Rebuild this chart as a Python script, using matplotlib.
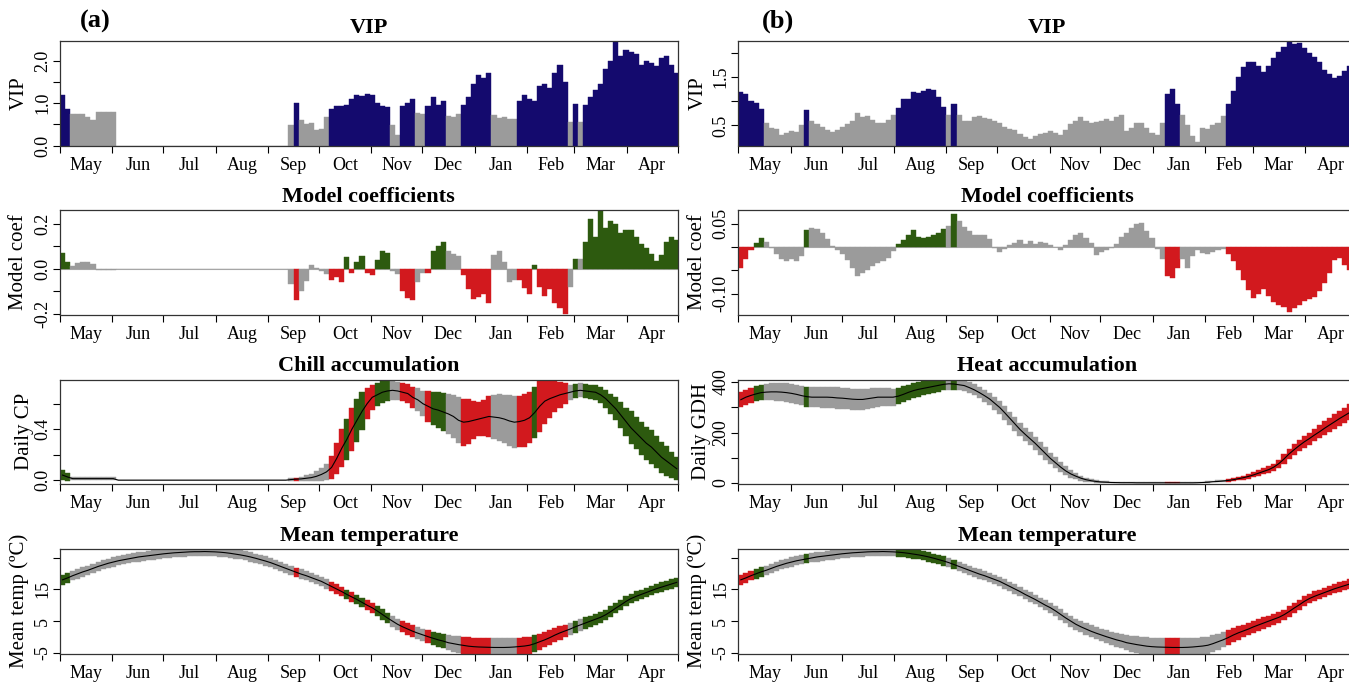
import numpy as np
import matplotlib
matplotlib.use("Agg")
import matplotlib.pyplot as plt

# one bar = 3 days, starting 1 May
STEP = 3
MONTHS = ["May", "Jun", "Jul", "Aug", "Sep", "Oct", "Nov", "Dec", "Jan", "Feb", "Mar", "Apr"]
MONTH_STARTS = [0, 31, 61, 92, 123, 153, 184, 214, 245, 276, 304, 335, 365]

# ---------- panel (a): chill ----------
vip_a = [1.2, 0.85, 0.74, 0.74, 0.73, 0.66, 0.59, 0.79, 0.79, 0.79, 0.79,
         0, 0, 0, 0, 0, 0, 0, 0, 0, 0, 0, 0, 0, 0, 0, 0, 0,
         0, 0, 0, 0, 0, 0, 0, 0, 0, 0, 0, 0, 0, 0, 0, 0, 0,
         0.49, 1.0, 0.6, 0.51, 0.52, 0.37, 0.39, 0.68, 0.87, 0.92, 0.94, 0.96, 1.1, 1.18, 1.17, 1.22,
         1.2, 1.0, 0.94, 0.9,
         0.49, 0.25, 0.94, 1.0, 1.1, 0.76, 0.75, 0.94, 1.15, 0.95, 1.05, 0.7, 0.66, 0.75, 0.95,
         1.15, 1.45, 1.65, 1.6, 1.7, 0.72, 0.65, 0.68, 0.62, 0.63,
         1.05, 1.2, 1.1, 1.05, 1.4, 1.45, 1.35, 1.7, 1.9, 1.5,
         0.55, 0.98, 0.55, 0.95, 1.15, 1.3, 1.45,
         1.8, 2.0, 2.44, 2.1, 2.25, 2.2, 2.15, 1.9, 1.98, 1.95, 1.88, 2.05, 2.1, 1.9, 1.7]

coef_a = [0.07, 0.03, 0.01, 0.025, 0.028, 0.028, 0.02, -0.005, -0.005, -0.005, -0.005,
          0, 0, 0, 0, 0, 0, 0, 0, 0, 0, 0, 0, 0, 0, 0, 0, 0,
          0, 0, 0, 0, 0, 0, 0, 0, 0, 0, 0, 0, 0, 0, 0, 0, 0,
          -0.07, -0.14, -0.1, -0.055, 0.015, 0.005, -0.01, -0.025, -0.05, -0.035, -0.06, 0.05,
          -0.02, 0.03, 0.055, -0.02,
          -0.03, 0.04, 0.08, 0.07,
          -0.012, -0.025, -0.1, -0.13, -0.14, -0.06, -0.02, -0.02, 0.08, 0.1, 0.12, 0.08, 0.065,
          0.055, -0.03, -0.09, -0.135, -0.125, -0.11, -0.15, 0.06, 0.08, 0.03, -0.06, -0.05,
          -0.05, -0.085, -0.11, 0.015, -0.08, -0.12, -0.09, -0.15, -0.175, -0.2,
          -0.08, 0.045, 0.045, 0.12, 0.22, 0.14, 0.26,
          0.18, 0.21, 0.2, 0.16, 0.17, 0.17, 0.14, 0.11, 0.09, 0.065, 0.035, 0.06, 0.12, 0.14, 0.125]

chill_mean = [0.04, 0.025, 0.012, 0.012, 0.012, 0.012, 0.012, 0.012, 0.012, 0.012, 0.012,
              0, 0, 0, 0, 0, 0, 0, 0, 0, 0, 0, 0, 0, 0, 0, 0, 0,
              0, 0, 0, 0, 0, 0, 0, 0, 0, 0, 0, 0, 0, 0, 0, 0, 0,
              0.005, 0.008, 0.01, 0.015, 0.02, 0.03, 0.045, 0.065,
              0.10, 0.17, 0.25, 0.32, 0.40, 0.47, 0.54, 0.60, 0.65,
              0.67, 0.69, 0.70, 0.705, 0.70, 0.69, 0.68, 0.65, 0.63, 0.60, 0.58, 0.56, 0.55,
              0.535, 0.52, 0.50, 0.47, 0.455, 0.46, 0.47, 0.48, 0.49, 0.50, 0.495, 0.49, 0.48,
              0.465, 0.455, 0.46, 0.47, 0.49, 0.53, 0.58, 0.62, 0.64, 0.655, 0.67, 0.68, 0.69,
              0.70, 0.705, 0.70, 0.695, 0.69, 0.67, 0.64, 0.60, 0.56, 0.51, 0.46, 0.41, 0.37,
              0.33, 0.29, 0.26, 0.22, 0.18, 0.15, 0.12, 0.09]

chill_sd = [0.04, 0.03, 0.012, 0.012, 0.012, 0.012, 0.012, 0.012, 0.012, 0.012, 0.012,
            0, 0, 0, 0, 0, 0, 0, 0, 0, 0, 0, 0, 0, 0, 0, 0, 0,
            0, 0, 0, 0, 0, 0, 0, 0, 0, 0, 0, 0, 0, 0, 0, 0, 0,
            0.01, 0.012, 0.015, 0.022, 0.03, 0.04, 0.05, 0.06,
            0.09, 0.12, 0.15, 0.16, 0.17, 0.17, 0.15, 0.12, 0.10,
            0.09, 0.085, 0.08, 0.075, 0.07, 0.07, 0.075, 0.08, 0.09, 0.10, 0.12, 0.13, 0.14,
            0.15, 0.16, 0.17, 0.18, 0.185, 0.18, 0.15, 0.13, 0.14, 0.16, 0.17, 0.185, 0.19,
            0.20, 0.205, 0.20, 0.21, 0.20, 0.20, 0.20, 0.18, 0.15, 0.12, 0.10, 0.08, 0.06,
            0.055, 0.055, 0.055, 0.055, 0.06, 0.065, 0.07, 0.08, 0.09, 0.10, 0.11, 0.13, 0.125,
            0.13, 0.13, 0.13, 0.125, 0.12, 0.115, 0.105, 0.09]

# ---------- panel (b): heat ----------
vip_b = [1.18, 1.15, 1.0, 0.97, 0.83, 0.55, 0.45, 0.42, 0.3, 0.35, 0.39, 0.37, 0.5, 0.82,
         0.6, 0.52, 0.47, 0.4, 0.37, 0.41, 0.47, 0.52, 0.6, 0.75, 0.68, 0.7, 0.62, 0.56,
         0.55, 0.62, 0.72, 0.85, 1.05, 1.05, 1.19, 1.16, 1.21, 1.25, 1.24, 1.08, 0.88, 0.72,
         0.95, 0.72, 0.6, 0.6, 0.67, 0.69, 0.66, 0.63, 0.59, 0.55, 0.47, 0.42, 0.4, 0.32,
         0.27, 0.23, 0.28, 0.33, 0.35, 0.39, 0.34, 0.31, 0.4, 0.52, 0.6, 0.67, 0.6, 0.54,
         0.58, 0.6, 0.63, 0.6, 0.68, 0.72, 0.38, 0.45, 0.55, 0.56, 0.45, 0.34, 0.3, 0.55,
         1.15, 1.25, 0.95, 0.72, 0.5, 0.28, 0.15, 0.45, 0.42, 0.5, 0.56, 0.7,
         0.95, 1.2, 1.5, 1.7, 1.81, 1.81, 1.73, 1.6, 1.72, 1.88, 2.02, 2.12, 2.24, 2.18,
         2.2, 2.1, 2.0, 1.9, 1.8, 1.65, 1.56, 1.48, 1.52, 1.62, 1.72, 1.78]

coef_b = [-0.045, -0.025, -0.006, 0.008, 0.02, 0.01, -0.003, -0.015, -0.025, -0.03,
          -0.026, -0.03, -0.02, 0.037, 0.041, 0.038, 0.03, 0.016, 0.002, -0.007,
          -0.016, -0.028, -0.045, -0.062, -0.056, -0.05, -0.042, -0.035, -0.031, -0.024,
          -0.008, 0.006, 0.014, 0.025, 0.037, 0.022, 0.019, 0.021, 0.026, 0.03,
          0.039, 0.044, 0.07, 0.055, 0.042, 0.035, 0.025, 0.025, 0.025, 0.016,
          -0.003, -0.01, -0.004, 0.004, 0.008, 0.015, 0.007, 0.013, 0.007, 0.011,
          0.008, 0.004, 0.0, -0.006, 0.004, 0.014, 0.026, 0.03, 0.02, 0.008,
          -0.017, -0.01, -0.006, -0.003, 0.006, 0.022, 0.03, 0.04, 0.048, 0.052,
          0.033, 0.018, -0.005, -0.025, -0.062, -0.066, -0.045, -0.025, -0.045, -0.02,
          -0.006, -0.014, -0.016, -0.01, -0.006, -0.004, -0.015, -0.03, -0.05, -0.072,
          -0.092, -0.11, -0.102, -0.09, -0.106, -0.118, -0.124, -0.128, -0.14, -0.13,
          -0.125, -0.117, -0.111, -0.108, -0.094, -0.078, -0.055, -0.028, -0.024, -0.038,
          -0.05, -0.06]

heat_mean = [330, 340, 347, 353, 358, 360, 361, 361, 360, 358, 355, 351, 346, 342,
             340, 340, 340, 340, 339, 337, 336, 334, 332, 331, 331, 334, 337, 340,
             340, 340, 340, 344, 351, 359, 366, 371, 375, 379, 383, 387, 391, 393,
             392, 389, 386, 378, 369, 358, 346, 333, 316, 299, 278, 256, 234, 212,
             193, 175, 157, 137, 117, 97, 80, 63, 48, 36, 27, 19, 13, 9,
             6, 4, 3, 2, 1.5, 1, 1, 1, 0.5, 0.5, 0.5, 0.5, 0.5, 0.5,
             0.5, 0.5, 0.5, 0.5, 0.5, 0.5, 1, 2, 3, 5, 6, 8,
             10, 13, 17, 21, 26, 32, 39, 46, 53, 63, 77, 95, 115, 132,
             148, 163, 176, 190, 203, 217, 230, 243, 256, 268, 280, 292]

heat_sd = [30, 30, 30, 30, 30, 32, 34, 35, 36, 37, 38, 38, 38, 39, 40, 40, 41, 41, 42, 42,
           42, 42, 42, 41, 40, 39, 38, 37, 36, 35, 34, 33, 32, 31, 30, 29, 28, 27, 26, 25,
           24, 23, 22, 22, 22, 22, 22, 23, 24, 25, 26, 27, 27, 27, 27, 27, 26, 26, 25, 25,
           24, 23, 22, 20, 18, 15, 12, 10, 8, 6, 5, 4, 3, 3, 2, 2, 2, 2, 2, 2,
           2, 2, 2, 2, 2, 2, 2, 2, 2, 2, 2, 2, 3, 3, 4, 4, 5, 6, 7, 8,
           9, 10, 11, 12, 13, 14, 16, 18, 20, 21, 22, 23, 24, 25, 26, 27, 28, 29, 30, 31,
           32, 32]

# ---------- daily mean temperature (same record for both panels) ----------
temp_mean = [18.0, 18.6, 19.3, 19.9, 20.5, 21.0, 21.6, 22.2, 22.7, 23.2, 23.6, 24.0, 24.3,
             24.6, 24.9, 25.2, 25.4, 25.6, 25.8, 26.0, 26.2, 26.35, 26.5, 26.6, 26.7, 26.8,
             26.85, 26.85, 26.9, 26.85, 26.8, 26.7, 26.55, 26.35, 26.1, 25.85, 25.55, 25.2,
             24.8, 24.35, 23.9, 23.4, 22.8, 22.2, 21.6, 21.0, 20.4, 19.8, 19.3, 18.7, 18.1,
             17.5, 16.7, 15.9, 15.1, 14.3, 13.4, 12.6, 11.8, 10.9, 10.0, 9.2, 8.2, 7.1, 6.0,
             5.0, 4.0, 3.2, 2.5, 1.8, 1.2, 0.65, 0.1, -0.4, -0.9, -1.3, -1.8, -2.1, -2.4,
             -2.65, -2.9, -3.05, -3.15, -3.2, -3.25, -3.3, -3.3, -3.3, -3.25, -3.15, -3.0,
             -2.85, -2.6, -2.1, -1.5, -0.9, -0.2, 0.6, 1.3, 1.9, 2.5, 3.2, 3.8, 4.4, 5.0,
             5.6, 6.2, 7.0, 8.0, 9.1, 10.1, 11.2, 12.1, 12.8, 13.4, 14.0, 14.6, 15.2, 15.7,
             16.2, 16.7, 17.2]

temp_sd = [1.6, 1.55, 1.5, 1.5, 1.5, 1.45, 1.45, 1.45, 1.45, 1.45, 1.45, 1.45, 1.45, 1.45,
           1.45, 1.45, 1.45, 1.45, 1.45, 1.45, 1.45, 1.45, 1.45, 1.45, 1.45, 1.45, 1.45, 1.45,
           1.45, 1.45, 1.45, 1.45, 1.45, 1.45, 1.45, 1.45, 1.45, 1.45, 1.45, 1.45, 1.45, 1.45,
           1.45, 1.45, 1.45, 1.45, 1.45, 1.45, 1.45, 1.45, 1.45, 1.45, 1.45, 1.45, 1.45, 1.5,
           1.5, 1.5, 1.5, 1.5, 1.55, 1.55, 1.6, 1.6, 1.65, 1.7, 1.7, 1.75, 1.8, 1.85,
           1.85, 1.9, 2.0, 2.1, 2.2, 2.3, 2.4, 2.5, 2.6, 2.7, 2.75, 2.8, 2.85, 2.9, 2.9,
           2.9, 2.9, 2.9, 2.9, 2.85, 2.8, 2.75, 2.7, 2.6, 2.5, 2.4, 2.3, 2.2, 2.1, 2.0,
           1.9, 1.85, 1.8, 1.75, 1.7, 1.7, 1.65, 1.65, 1.6, 1.6, 1.6, 1.55, 1.55, 1.55,
           1.5, 1.5, 1.5, 1.5, 1.5, 1.5, 1.5, 1.5]

BLUE = "#140A6E"
GREEN = "#2D5A0F"
RED = "#D2191E"
GREY = "#9B9B9B"
VIP_CUT = 0.8

W, H = 1349, 682
COL_X = [60, 738.3]
AX_W = 617.6
ROW_TOP = [41, 210, 379.5, 549]
AX_H = 104.5

plt.rcParams["font.family"] = ["Liberation Serif", "DejaVu Serif"]


def vip_colors(vip):
    return [BLUE if v >= VIP_CUT else GREY for v in vip]


def coef_colors(vip, coef):
    cols = []
    for v, c in zip(vip, coef):
        if v < VIP_CUT:
            cols.append(GREY)
        else:
            cols.append(GREEN if c > 0 else RED)
    return cols


def make_axes(fig, col, row):
    left = COL_X[col] / W
    bottom = 1 - (ROW_TOP[row] + AX_H) / H
    return fig.add_axes([left, bottom, AX_W / W, AX_H / H])


def style_axes(ax, title, ylabel, ylim, yticks, ylabels, label_x):
    ax.set_xlim(0, 365)
    ax.set_ylim(*ylim)
    ax.set_title(title, fontsize=16, fontweight="bold", pad=6)
    ax.set_xticks(MONTH_STARTS)
    ax.set_xticklabels([])
    mids = [(a + b) / 2 for a, b in zip(MONTH_STARTS[:-1], MONTH_STARTS[1:])]
    ax.set_xticks(mids, minor=True)
    ax.set_xticklabels(MONTHS, minor=True, fontsize=13)
    ax.tick_params(axis="x", which="minor", length=0, pad=8)
    ax.tick_params(axis="x", which="major", length=5, width=0.8, direction="out")
    ax.set_yticks(yticks)
    ax.set_yticklabels(ylabels, rotation=90, va="center", fontsize=13)
    ax.tick_params(axis="y", length=5, width=0.8, direction="out", pad=1.5)
    ax.set_ylabel(ylabel, fontsize=15)
    ax.yaxis.label.set_va("center")
    ax.yaxis.set_label_coords(label_x, 0.5)
    for sp in ax.spines.values():
        sp.set_linewidth(0.9)
        sp.set_color("#333333")


def draw_bars(ax, values, colors):
    x = np.arange(len(values)) * STEP
    ax.bar(x, values, width=STEP, align="edge", color=colors,
           edgecolor=colors, linewidth=0.3)


def draw_band(ax, mean, sd, colors):
    mean = np.asarray(mean, dtype=float)
    sd = np.asarray(sd, dtype=float)
    x = np.arange(len(mean)) * STEP
    ax.bar(x, 2 * sd, bottom=mean - sd, width=STEP, align="edge",
           color=colors, edgecolor=colors, linewidth=0.3)
    ax.plot(x + STEP / 2, mean, color="black", linewidth=0.8)


fig = plt.figure(figsize=(W / 100, H / 100), dpi=100)

panels = [
    (0, vip_a, coef_a, chill_mean, chill_sd, "Chill accumulation", "Daily CP",
     (-0.03, 0.79), [0, 0.2, 0.4, 0.6], ["0.0", "", "0.4", ""]),
    (1, vip_b, coef_b, heat_mean, heat_sd, "Heat accumulation", "Daily GDH",
     (-4, 410), [0, 100, 200, 300, 400], ["0", "", "200", "", "400"]),
]
vip_axis = {0: ((0, 2.46), [0, 0.5, 1.0, 1.5, 2.0], ["0.0", "", "1.0", "", "2.0"]),
            1: ((0.086, 2.24), [0.5, 1.0, 1.5, 2.0], ["0.5", "", "1.5", ""])}
coef_axis = {0: ((-0.203, 0.26), [-0.2, -0.1, 0.0, 0.1, 0.2], ["-0.2", "", "0.0", "", "0.2"]),
             1: ((-0.145, 0.079), [-0.1, -0.05, 0.0, 0.05], ["-0.10", "", "", "0.05"])}
label_pos = {0: [(19 - COL_X[0]) / AX_W, (19 - COL_X[0]) / AX_W,
                 (24 - COL_X[0]) / AX_W, (19 - COL_X[0]) / AX_W],
             1: [(698 - COL_X[1]) / AX_W, (697 - COL_X[1]) / AX_W,
                 (701 - COL_X[1]) / AX_W, (697 - COL_X[1]) / AX_W]}

for col, vip, coef, acc_mean, acc_sd, acc_title, acc_label, acc_lim, acc_ticks, acc_lbls in panels:
    cc = coef_colors(vip, coef)

    ax = make_axes(fig, col, 0)
    draw_bars(ax, vip, vip_colors(vip))
    lim, ticks, lbls = vip_axis[col]
    style_axes(ax, "VIP", "VIP", lim, ticks, lbls, label_pos[col][0])

    ax = make_axes(fig, col, 1)
    ax.axhline(0, color="#AAAAAA", linewidth=0.8, zorder=0)
    draw_bars(ax, coef, cc)
    lim, ticks, lbls = coef_axis[col]
    style_axes(ax, "Model coefficients", "Model coef", lim, ticks, lbls, label_pos[col][1])

    ax = make_axes(fig, col, 2)
    draw_band(ax, acc_mean, acc_sd, cc)
    style_axes(ax, acc_title, acc_label, acc_lim, acc_ticks, acc_lbls, label_pos[col][2])

    ax = make_axes(fig, col, 3)
    draw_band(ax, temp_mean, temp_sd, cc)
    style_axes(ax, "Mean temperature", "Mean temp (\u00baC)", (-5.2, 27.7),
               [-5, 5, 15, 25], ["-5", "5", "15", ""], label_pos[col][3])

fig.text(95 / W, 1 - 21 / H, "(a)", fontsize=19, fontweight="bold", ha="center", va="center")
fig.text(778 / W, 1 - 21 / H, "(b)", fontsize=19, fontweight="bold", ha="center", va="center")

fig.savefig("out.png", dpi=100)
